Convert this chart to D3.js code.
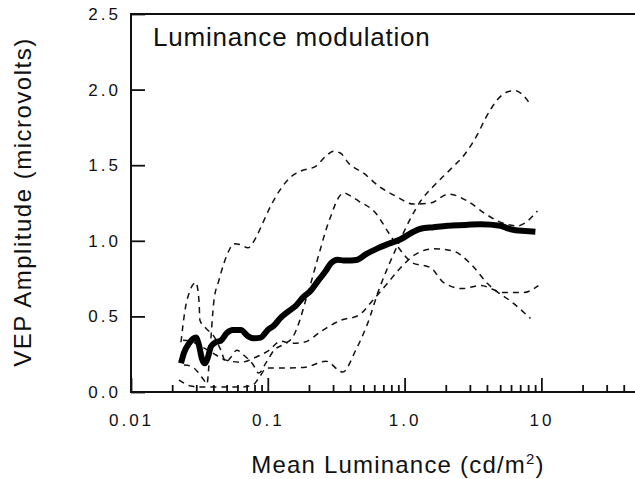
<!DOCTYPE html>
<html>
<head>
<meta charset="utf-8">
<script src="https://cdn.jsdelivr.net/npm/d3@7"></script>
<style>
body { margin: 0; background: #fff; }
text { font-family: "Liberation Sans", Arial, Helvetica, sans-serif; fill: #111; }
</style>
</head>
<body>
<svg id="chart" width="635" height="479"></svg>
<script>
// [mean luminance cd/m2, VEP amplitude microvolts]
const meanCurve = [
  [0.0232, 0.19], [0.0244, 0.26], [0.0265, 0.32], [0.0298, 0.36], [0.0314, 0.31],
  [0.0330, 0.22], [0.0347, 0.19], [0.0365, 0.23], [0.0384, 0.30], [0.0417, 0.33],
  [0.0454, 0.34], [0.0502, 0.39], [0.0555, 0.41], [0.0635, 0.41], [0.0715, 0.37],
  [0.0790, 0.355], [0.0889, 0.36], [0.100, 0.41], [0.111, 0.44], [0.124, 0.49],
  [0.140, 0.53], [0.160, 0.57], [0.183, 0.63], [0.206, 0.67], [0.235, 0.74],
  [0.265, 0.80], [0.288, 0.85], [0.324, 0.875], [0.359, 0.87], [0.404, 0.87],
  [0.452, 0.875], [0.519, 0.91], [0.635, 0.95], [0.764, 0.98], [0.935, 1.01],
  [1.11, 1.05], [1.31, 1.08], [1.63, 1.09], [2.06, 1.10], [2.79, 1.105],
  [3.59, 1.11], [5.01, 1.10], [5.74, 1.08], [6.46, 1.07], [7.64, 1.065], [9.04, 1.06]
];

const subjectA = [
  [0.0244, 0.178], [0.0274, 0.171], [0.0308, 0.132], [0.0341, 0.079], [0.0359, 0.053],
  [0.0377, 0.263], [0.0404, 0.605], [0.0439, 0.737], [0.0477, 0.849], [0.0519, 0.934],
  [0.0565, 0.980], [0.0635, 0.974], [0.0715, 0.954], [0.0817, 1.020], [0.0919, 1.118],
  [0.105, 1.230], [0.124, 1.342], [0.147, 1.421], [0.174, 1.461], [0.224, 1.493],
  [0.265, 1.559], [0.303, 1.592], [0.341, 1.579], [0.390, 1.513], [0.502, 1.447],
  [0.646, 1.362], [0.860, 1.296], [1.16, 1.243], [1.55, 1.250], [2.10, 1.309],
  [2.88, 1.263], [3.90, 1.178], [5.19, 1.118], [6.68, 1.099], [9.35, 1.197]
];

const subjectB = [
  [0.0232, 0.329], [0.0248, 0.539], [0.0270, 0.671], [0.0298, 0.724], [0.0314, 0.605],
  [0.0319, 0.474], [0.0353, 0.421], [0.0404, 0.368], [0.0454, 0.276], [0.0494, 0.197],
  [0.0537, 0.230], [0.0594, 0.276], [0.0668, 0.243], [0.0777, 0.184], [0.0860, 0.125],
  [0.0967, 0.191], [0.111, 0.276], [0.131, 0.316], [0.152, 0.362], [0.174, 0.493],
  [0.189, 0.605], [0.206, 0.717], [0.224, 0.836], [0.244, 0.954], [0.265, 1.066],
  [0.293, 1.178], [0.324, 1.276], [0.359, 1.316], [0.404, 1.296], [0.461, 1.263],
  [0.614, 1.184], [0.764, 1.053], [0.904, 0.954], [1.14, 0.855], [1.55, 0.822],
  [1.93, 0.724], [2.65, 0.684], [3.59, 0.704], [5.28, 0.658], [7.39, 0.658], [9.51, 0.704]
];

const subjectC = [
  [0.0224, 0.079], [0.0244, 0.059], [0.0274, 0.039], [0.0324, 0.033], [0.0454, 0.033],
  [0.0635, 0.033], [0.0777, 0.046], [0.0860, 0.092], [0.0983, 0.158], [0.135, 0.158],
  [0.189, 0.164], [0.265, 0.204], [0.353, 0.132], [0.439, 0.276], [0.537, 0.454],
  [0.646, 0.671], [0.791, 0.868], [0.935, 1.013], [1.11, 1.151], [1.31, 1.263],
  [1.63, 1.362], [2.17, 1.474], [2.79, 1.579], [3.41, 1.704], [3.90, 1.809],
  [4.78, 1.934], [5.74, 1.987], [6.46, 1.993], [7.27, 1.967], [8.32, 1.901]
];

const subjectD = [
  [0.0240, 0.342], [0.0274, 0.336], [0.0324, 0.303], [0.0397, 0.257], [0.0494, 0.211],
  [0.0635, 0.197], [0.0817, 0.230], [0.102, 0.276], [0.124, 0.336], [0.147, 0.322],
  [0.183, 0.329], [0.252, 0.408], [0.341, 0.474], [0.461, 0.507], [0.584, 0.605],
  [0.726, 0.704], [0.935, 0.822], [1.16, 0.901], [1.63, 0.947], [2.24, 0.934],
  [3.03, 0.849], [4.04, 0.717], [6.25, 0.586], [8.32, 0.487]
];

const subjects = [subjectA, subjectB, subjectC, subjectD];

const yTicks = [0, 0.5, 1.0, 1.5, 2.0, 2.5];
const xMajor = [0.01, 0.1, 1, 10];
const xMajorLabels = ["0.01", "0.1", "1.0", "10"];

const svg = d3.select("#chart");

const x = d3.scaleLog().domain([0.01, 50]).range([131, 637]);
const y = d3.scaleLinear().domain([0, 2.5]).range([392, 14]);

// minor ticks 2..9 of each decade
let xMinor = [];
for (let d of [0.01, 0.1, 1, 10]) {
    for (let k = 2; k <= 9; k++) {
        let v = d * k;
        if (v <= 50) xMinor.push(v);
    }
}

// frame
svg.append("rect")
    .attr("x", x(0.01)).attr("y", y(2.5))
    .attr("width", x(50) - x(0.01)).attr("height", y(0) - y(2.5))
    .attr("fill", "none").attr("stroke", "#111").attr("stroke-width", 2);

const gyAxis = svg.append("g")
    .attr("transform", `translate(${x(0.01)},0)`)
    .call(d3.axisLeft(y).tickValues(yTicks).tickFormat(d3.format(".1f"))
        .tickSize(-14).tickPadding(10));

const gxMinor = svg.append("g")
    .attr("transform", `translate(0,${y(0)})`)
    .call(d3.axisBottom(x).tickValues(xMinor).tickFormat("").tickSize(-7));

const gxMajor = svg.append("g")
    .attr("transform", `translate(0,${y(0)})`)
    .call(d3.axisBottom(x).tickValues(xMajor)
        .tickFormat((d, i) => xMajorLabels[i])
        .tickSize(-14).tickPadding(22));

for (let g of [gyAxis, gxMinor, gxMajor]) {
    g.select(".domain").remove();
    g.selectAll(".tick line").attr("stroke", "#111").attr("stroke-width", 1.8);
    g.selectAll("text")
        .attr("fill", "#111")
        .style("font-size", "17px")
        .style("letter-spacing", "3px")
        .style("font-family", "'Liberation Sans', Arial, sans-serif");
}

const line = d3.line()
    .x(d => x(d[0]))
    .y(d => y(d[1]))
    .curve(d3.curveMonotoneX);

svg.append("g").selectAll("path")
    .data(subjects)
    .join("path")
    .attr("d", line)
    .attr("fill", "none")
    .attr("stroke", "#111")
    .attr("stroke-width", 1.5)
    .attr("stroke-dasharray", "6,5");

svg.append("path")
    .datum(meanCurve)
    .attr("d", line)
    .attr("fill", "none")
    .attr("stroke", "#000")
    .attr("stroke-width", 6)
    .attr("stroke-linejoin", "round");

svg.append("text")
    .attr("x", 153).attr("y", 46)
    .style("font-size", "26px")
    .style("letter-spacing", "0.8px")
    .text("Luminance modulation");

const xt = svg.append("text")
    .attr("x", 398).attr("y", 473)
    .attr("text-anchor", "middle")
    .style("font-size", "24px")
    .style("letter-spacing", "1.2px");
xt.append("tspan").text("Mean Luminance (cd/m");
xt.append("tspan").attr("dy", -9).style("font-size", "15px").text("2");
xt.append("tspan").attr("dy", 9).text(")");

svg.append("text")
    .attr("transform", "translate(31,202) rotate(-90)")
    .attr("text-anchor", "middle")
    .style("font-size", "24px")
    .style("letter-spacing", "1.5px")
    .text("VEP Amplitude (microvolts)");
</script>
</body>
</html>
